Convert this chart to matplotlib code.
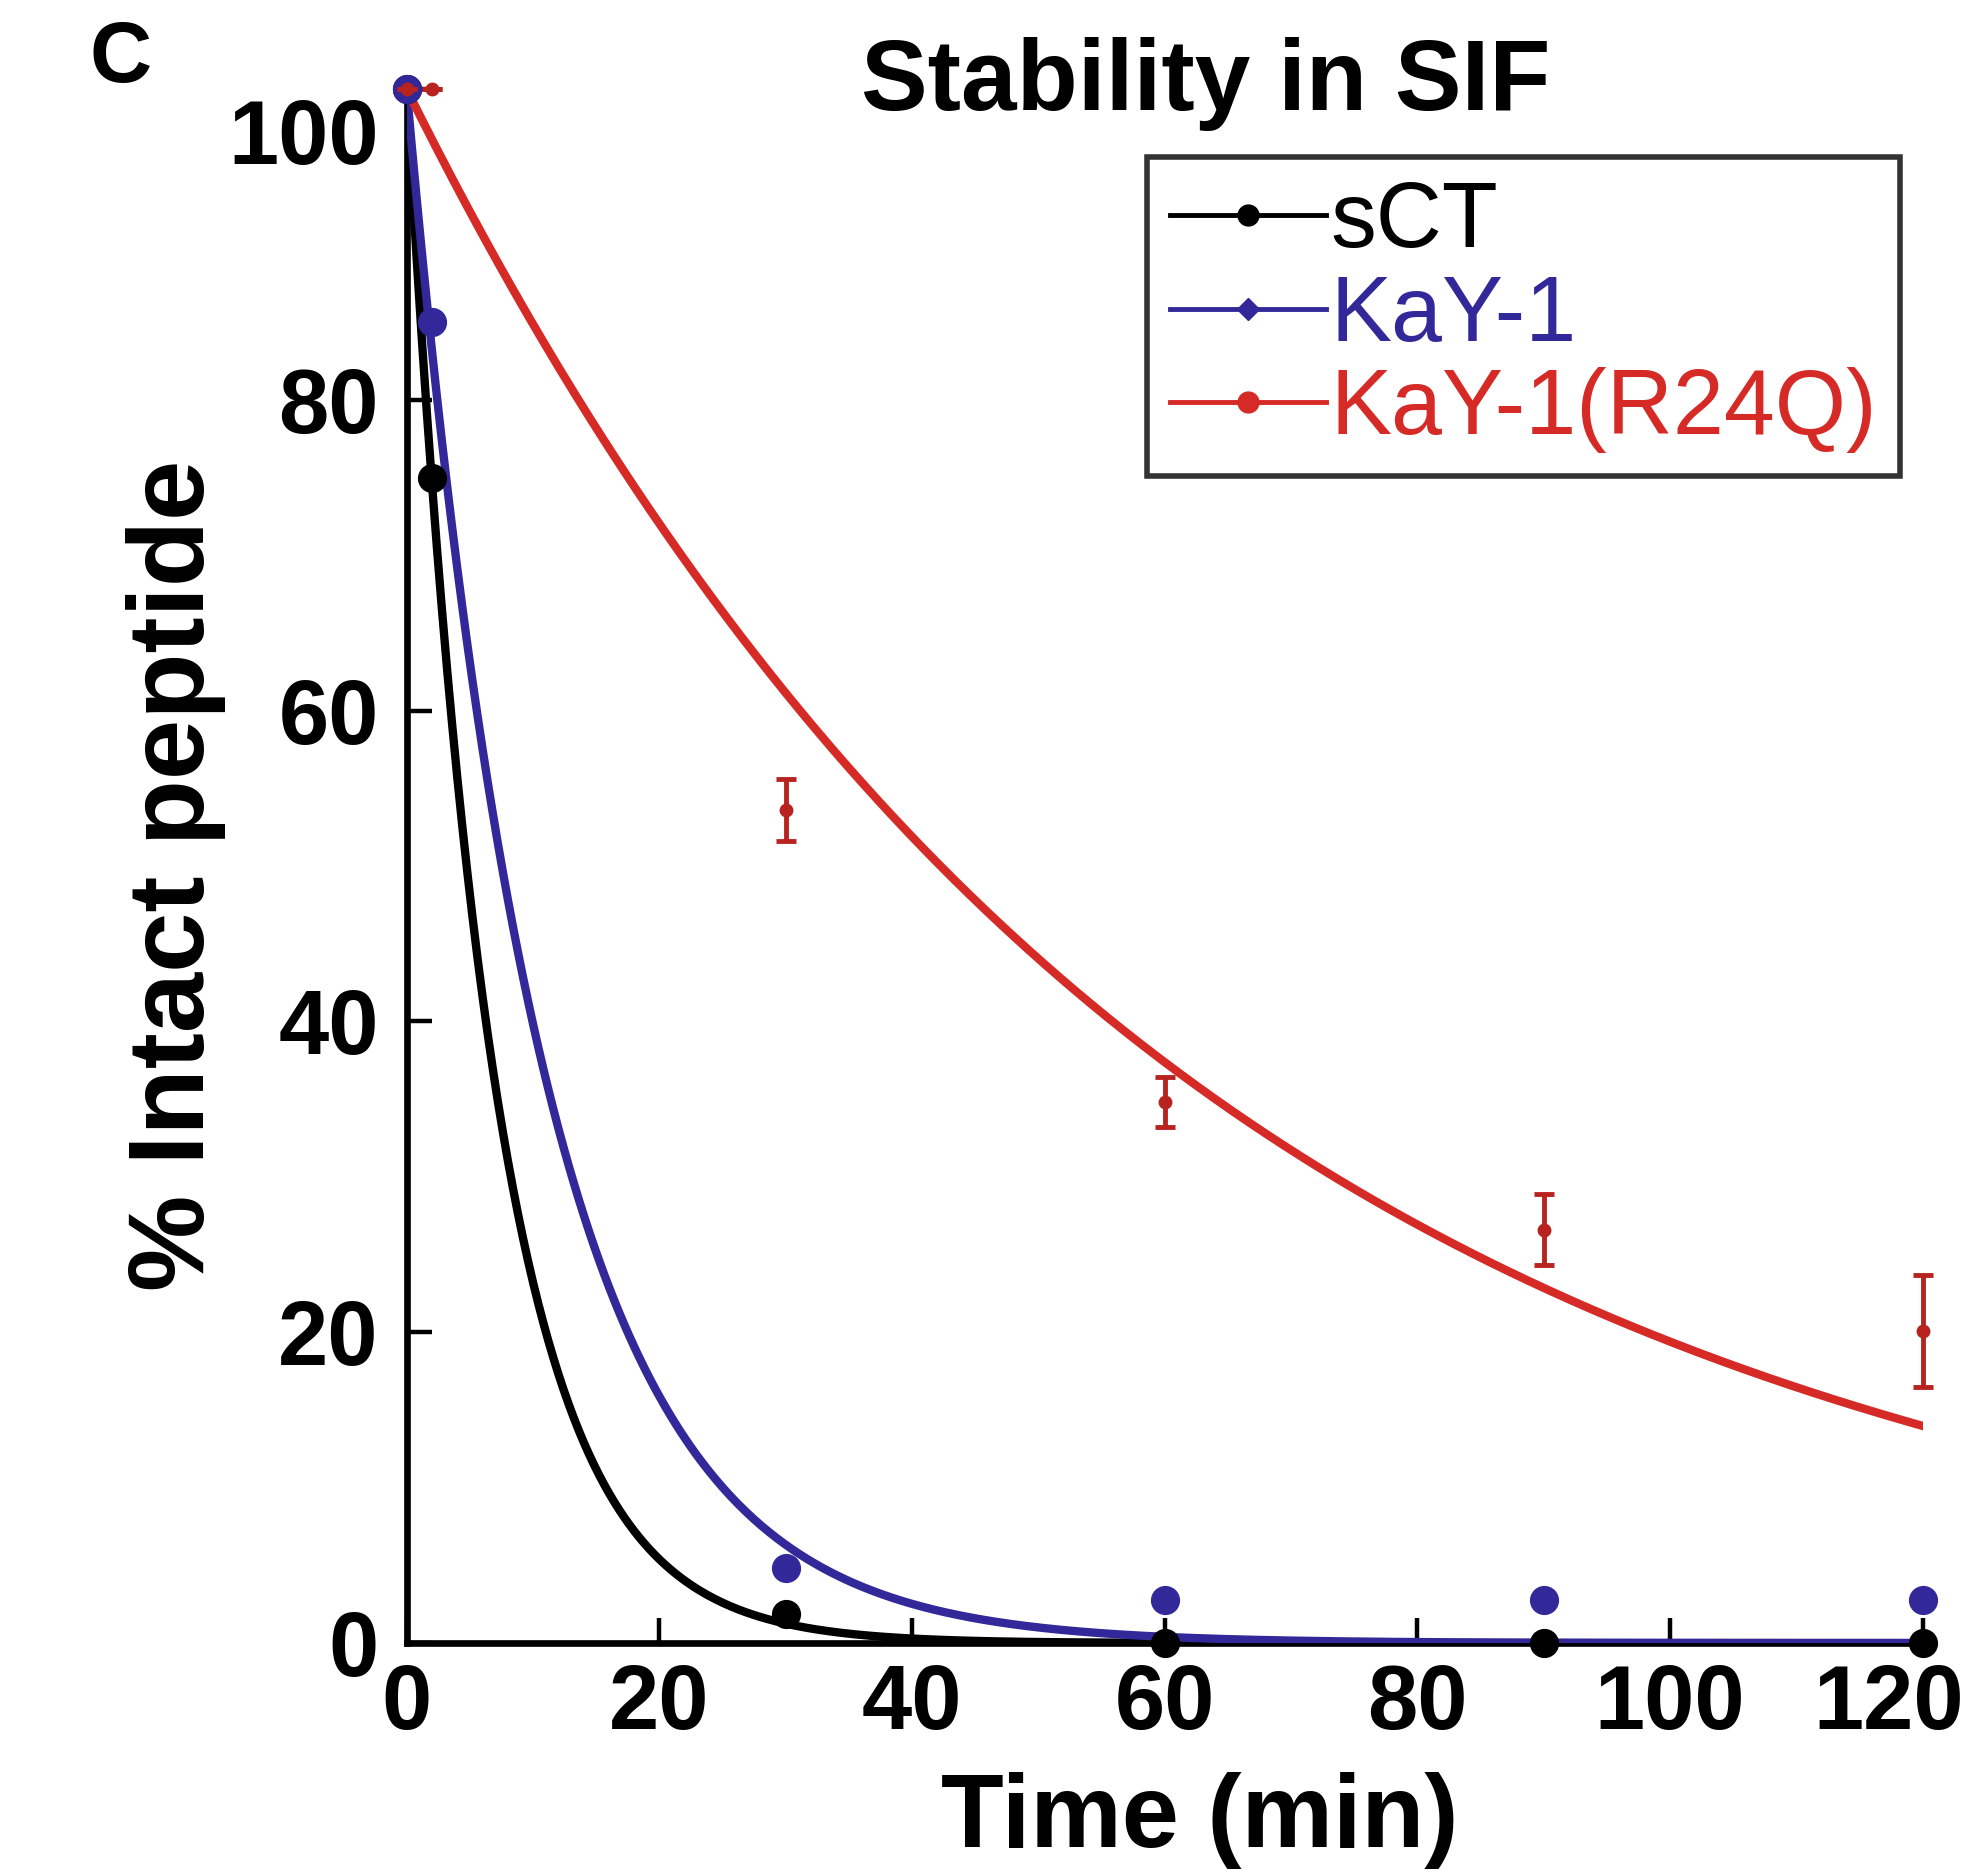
import numpy as np
import matplotlib
matplotlib.use("Agg")
import matplotlib.pyplot as plt
import matplotlib.transforms as mtransforms
from matplotlib.lines import Line2D

plt.rcParams["font.family"] = ["Liberation Sans", "DejaVu Sans"]

# measured points (% intact peptide vs time in min)
time_min = [0, 2, 30, 60, 90, 120]
sct = [100, 75, 1.9, 0, 0, 0]
kay1 = [100, 85, 4.8, 2.8, 2.8, 2.8]
kay1_r24q = [100, 100, 53.6, 34.8, 26.6, 20.1]
kay1_r24q_err = [0, 0, 2.0, 1.6, 2.3, 3.6]

# first-order decay rate constants of the fitted curves (1/min)
k_sct = 0.146
k_kay1 = 0.092
k_r24q = 0.0164

labels = ["sCT", "KaY-1", "KaY-1(R24Q)"]
black = "#000000"
blue = "#33289a"
red = "#d62a26"

fig = plt.figure(figsize=(19.74, 18.75), dpi=100)
ax = fig.add_axes([0.206, 0.1237, 0.768, 0.8288])

t = np.linspace(0, 120, 600)
ax.plot(t, 100 * np.exp(-k_sct * t), color=black, lw=6, zorder=3)
ax.plot(t, 100 * np.exp(-k_kay1 * t), color=blue, lw=6, zorder=3)
ax.plot(t, 100 * np.exp(-k_r24q * t), color=red, lw=6, zorder=4)

ax.plot(time_min, sct, "o", color=black, ms=20, clip_on=False, zorder=5)
ax.plot(time_min, kay1, "o", color=blue, ms=20, clip_on=False, zorder=5)
ax.errorbar(time_min, kay1_r24q, yerr=kay1_r24q_err, fmt="o", color="#b8231f",
            ms=9, elinewidth=3.5, capsize=7, capthick=3.5, clip_on=False, zorder=6)

ax.set_xlim(0, 120)
ax.set_ylim(0, 100)
ax.set_xticks([0, 20, 40, 60, 80, 100, 120])
ax.set_yticks([0, 20, 40, 60, 80, 100])
for s in ["top", "right"]:
    ax.spines[s].set_visible(False)
for s in ["left", "bottom"]:
    ax.spines[s].set_linewidth(4.8)
ax.tick_params(direction="in", length=18, width=3.2, labelsize=65)
ax.tick_params(axis="x", pad=14)
ax.tick_params(axis="y", pad=20)
for lab in ax.get_xticklabels() + ax.get_yticklabels():
    lab.set_fontweight("bold")

# the "100" label sits lower than its tick in the original, "120" is pulled left
lab100 = ax.get_yticklabels()[-1]
lab100.set_transform(lab100.get_transform() +
                     mtransforms.ScaledTranslation(0, -0.42, fig.dpi_scale_trans))
lab120 = ax.get_xticklabels()[-1]
lab120.set_transform(lab120.get_transform() +
                     mtransforms.ScaledTranslation(-0.34, 0, fig.dpi_scale_trans))

fig.text(0.608, 0.029, "Time (min)", ha="center", va="center",
         fontsize=74, fontweight="bold")
fig.text(0.089, 0.533, "% Intact peptide", ha="center", va="center",
         rotation=90, fontsize=78, fontweight="bold")
fig.text(0.611, 0.955, "Stability in SIF", ha="center", va="center",
         fontsize=72, fontweight="bold")
fig.text(0.061, 0.968, "C", ha="center", va="center",
         fontsize=62, fontweight="bold")

handles = [
    Line2D([], [], color=black, lw=3.5, marker="o", ms=15),
    Line2D([], [], color=blue, lw=3.5, marker="D", ms=11),
    Line2D([], [], color=red, lw=3.5, marker="o", ms=15),
]
leg = ax.legend(handles, labels, loc="upper right", bbox_to_anchor=(0.985, 0.956),
                fontsize=66, frameon=True, fancybox=False, handlelength=1.7,
                handletextpad=0.05, labelspacing=0.08, borderpad=0.25,
                borderaxespad=0)
leg.get_frame().set_edgecolor("black")
leg.get_frame().set_linewidth(4)
for txt, c in zip(leg.get_texts(), [black, blue, red]):
    txt.set_color(c)

fig.savefig("out.png", dpi=100)
